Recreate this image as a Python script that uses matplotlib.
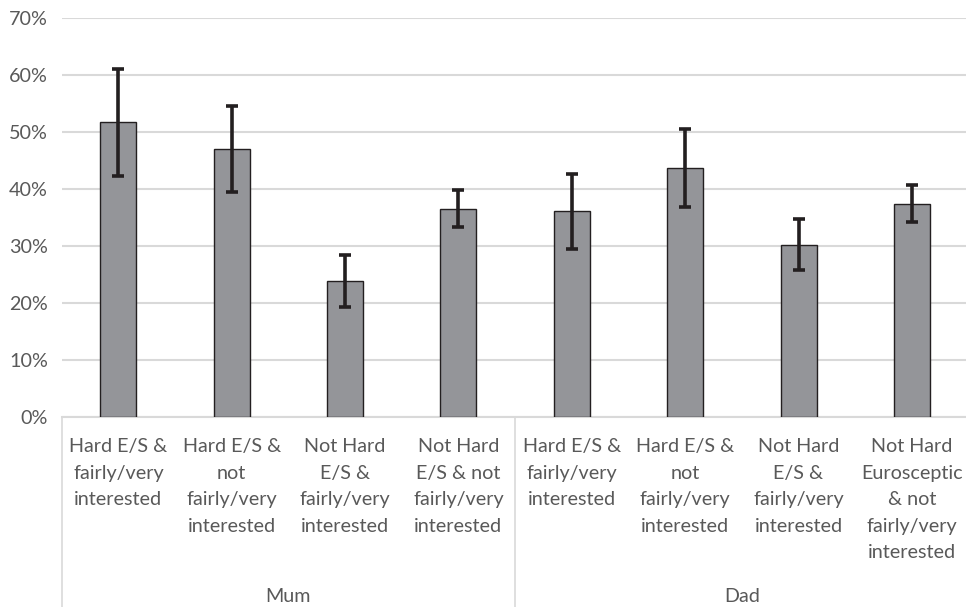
import matplotlib.pyplot as plt
import matplotlib.transforms as mtransforms
import numpy as np

plt.rcParams['font.family'] = ['Lato', 'DejaVu Sans']

groups = ['Mum', 'Dad']
labels = [
    'Hard E/S &\nfairly/very\ninterested',
    'Hard E/S &\nnot\nfairly/very\ninterested',
    'Not Hard\nE/S &\nfairly/very\ninterested',
    'Not Hard\nE/S & not\nfairly/very\ninterested',
    'Hard E/S &\nfairly/very\ninterested',
    'Hard E/S &\nnot\nfairly/very\ninterested',
    'Not Hard\nE/S &\nfairly/very\ninterested',
    'Not Hard\nEurosceptic\n& not\nfairly/very\ninterested',
]
values = [0.517, 0.470, 0.238, 0.365, 0.361, 0.437, 0.302, 0.373]
err_low = [0.094, 0.076, 0.046, 0.032, 0.066, 0.069, 0.045, 0.032]
err_high = [0.093, 0.076, 0.046, 0.033, 0.066, 0.069, 0.045, 0.033]

text_color = '#595959'
grid_color = '#d9d9d9'
fsize = 14.2

fig = plt.figure(figsize=(9.66, 6.07), dpi=100)
ax = fig.add_axes([0.0638, 0.3135, 0.9389, 0.6568])

x = np.arange(len(values))
ax.bar(x, values, width=0.318, color='#949599', edgecolor='#231f20',
       linewidth=1.0, zorder=3)
ax.errorbar(x, values, yerr=[err_low, err_high], fmt='none', ecolor='#231f20',
            elinewidth=2.6, capsize=4.5, capthick=2.6, zorder=4)

ax.set_xlim(-0.5, 7.5)
ax.set_ylim(0, 0.7)
ax.set_yticks(np.arange(0, 0.71, 0.1))
ax.set_yticklabels([f'{int(round(v * 100))}%' for v in np.arange(0, 0.71, 0.1)])
ax.yaxis.grid(True, color=grid_color, linewidth=1.5, zorder=0)
ax.set_axisbelow(True)
ax.tick_params(axis='y', length=0, pad=10, labelsize=fsize, labelcolor=text_color)
ax.set_xticks([])
for side in ['left', 'right', 'top']:
    ax.spines[side].set_visible(False)
ax.spines['bottom'].set_color(grid_color)
ax.spines['bottom'].set_linewidth(1.5)

# two-level category axis below the plot
trans = mtransforms.blended_transform_factory(ax.transData, ax.transAxes)
for xi, lab in zip(x, labels):
    ax.text(xi, -0.054, lab, transform=trans, ha='center', va='top',
            fontsize=fsize, color=text_color, linespacing=1.68)
for gi, g in enumerate(groups):
    ax.text(gi * 4 + 1.5, -0.452, g, transform=trans, ha='center',
            va='center', fontsize=fsize, color=text_color)
for xs in [-0.5, 3.5, 7.5]:
    ax.plot([xs, xs], [0, -0.48], transform=trans, color=grid_color,
            linewidth=1.2, clip_on=False)

fig.savefig('out.png', dpi=100)
